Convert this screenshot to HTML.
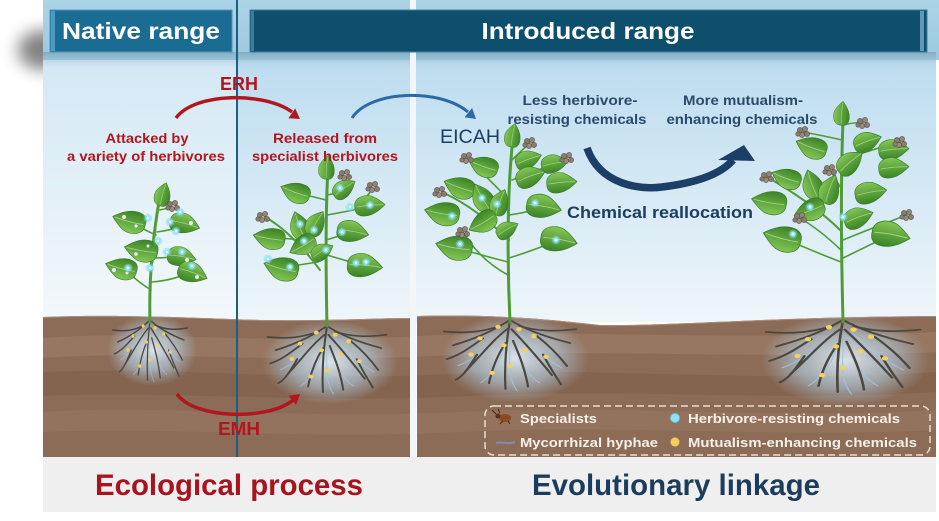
<!DOCTYPE html>
<html><head><meta charset="utf-8"><style>
html,body{margin:0;padding:0;background:#fff;}
svg{display:block;font-family:"Liberation Sans",Arial,sans-serif;}
</style></head><body>
<svg width="939" height="521" viewBox="0 0 939 521" xmlns="http://www.w3.org/2000/svg">
<defs>
<linearGradient id="skyL" x1="0" y1="0" x2="0" y2="1"><stop offset="0" stop-color="#d3e8f4"/><stop offset="1" stop-color="#f3f8fb"/></linearGradient>
<linearGradient id="skyR" x1="0" y1="0" x2="0" y2="1"><stop offset="0" stop-color="#bcdcef"/><stop offset="1" stop-color="#eff6fa"/></linearGradient>
<linearGradient id="hdr" x1="0" y1="0" x2="0" y2="1"><stop offset="0" stop-color="#acd4e7"/><stop offset="1" stop-color="#9cc8de"/></linearGradient>
<linearGradient id="hsh" x1="0" y1="0" x2="0" y2="1"><stop offset="0" stop-color="#6f98b0" stop-opacity="0.6"/><stop offset="1" stop-color="#bcdcef" stop-opacity="0"/></linearGradient>
<linearGradient id="leafg" x1="0" y1="0" x2="0" y2="1"><stop offset="0" stop-color="#84c656"/><stop offset="1" stop-color="#3b8326"/></linearGradient>
<radialGradient id="glow"><stop offset="0" stop-color="#e4f1fa" stop-opacity="0.9"/><stop offset="0.6" stop-color="#b3d5ec" stop-opacity="0.55"/><stop offset="1" stop-color="#a9cde6" stop-opacity="0"/></radialGradient>
<filter id="blur8" x="-1" y="-1" width="3" height="3"><feGaussianBlur stdDeviation="8"/></filter>
<g id="lf"><path d="M-15,0 C-16,-10 -4,-13 4,-10 C10,-7 14,-3 17,0 C12,4 6,9 -2,10 C-10,11 -16,8 -15,0 Z" fill="url(#leafg)" stroke="#357a22" stroke-width="0.6"/><path d="M-13,0 C-4,-1 6,-1 15,0" stroke="#a5d683" stroke-width="0.8" fill="none"/></g>
<g id="dot"><circle r="4.4" fill="#7fdcef" opacity="0.45"/><circle r="2.8" fill="#8ee8f6"/><circle r="1.2" fill="#fff"/></g>
<g id="fl"><circle cx="-3" cy="-2" r="2.6" fill="#8b7c71" stroke="#5b4e46" stroke-width="0.6"/><circle cx="2" cy="-3" r="2.6" fill="#948579" stroke="#5b4e46" stroke-width="0.6"/><circle cx="4" cy="2" r="2.6" fill="#8b7c71" stroke="#5b4e46" stroke-width="0.6"/><circle cx="-1" cy="3" r="2.6" fill="#9a8b7f" stroke="#5b4e46" stroke-width="0.6"/><circle cx="-5" cy="2" r="2.2" fill="#8b7c71" stroke="#5b4e46" stroke-width="0.6"/></g>
<g id="roots" fill="none">
<g stroke="#9fc6e2" stroke-width="0.7" opacity="0.9">
<path d="M-5,10 C-15,25 -25,35 -35,40"/><path d="M5,10 C15,25 25,35 35,42"/><path d="M-2,15 C-5,30 -8,45 -20,55"/><path d="M2,15 C5,30 8,45 20,55"/><path d="M0,20 C0,35 -2,50 5,62"/></g>
<g stroke="#4b4741" stroke-width="1.5" stroke-linecap="round">
<path d="M0,0 C-2,15 -4,35 -3,60"/><path d="M0,0 C-10,8 -20,15 -38,22"/><path d="M0,0 C10,8 22,14 40,20"/><path d="M-2,8 C-12,18 -20,32 -30,45"/><path d="M1,8 C10,20 18,32 28,48"/><path d="M-3,20 C-8,30 -12,42 -14,55"/><path d="M2,18 C6,30 10,42 12,58"/><path d="M-18,16 C-25,22 -32,30 -42,34"/><path d="M18,14 C26,22 32,30 38,40"/><path d="M-6,5 C-18,10 -28,12 -44,10"/><path d="M6,5 C18,10 30,10 44,8"/><path d="M-22,30 C-26,38 -30,48 -36,52"/><path d="M22,30 C26,40 30,48 34,56"/></g>
<g fill="#f3d15c"><circle cx="-8" cy="6" r="1.8"/><circle cx="6" cy="8" r="1.8"/><circle cx="-20" cy="16" r="1.8"/><circle cx="16" cy="14" r="1.8"/><circle cx="-4" cy="22" r="1.8"/><circle cx="10" cy="26" r="1.8"/><circle cx="-26" cy="30" r="1.8"/><circle cx="24" cy="32" r="1.8"/><circle cx="0" cy="40" r="1.8"/><circle cx="-12" cy="46" r="1.8"/></g>
</g>
<clipPath id="soilclip"><path d="M43,317 C120,314 200,318 260,320 C320,321 380,318 410,318 L410,457 L43,457 Z"/><path d="M417,316 C480,314 540,318 600,325 C680,326 760,317 936,316 L936,457 L417,457 Z"/></clipPath>
</defs>

<rect width="939" height="521" fill="#fff"/>
<ellipse cx="44" cy="50" rx="26" ry="20" fill="#6d6d6d" filter="url(#blur8)" opacity="0.85"/>

<rect x="43" y="60" width="195" height="260" fill="url(#skyL)"/>
<rect x="237" y="60" width="699" height="262" fill="url(#skyR)"/>
<rect x="43" y="0" width="896" height="60" fill="url(#hdr)"/>
<rect x="43" y="52" width="893" height="18" fill="url(#hsh)"/>

<g clip-path="url(#soilclip)">
<rect x="43" y="310" width="895" height="150" fill="#8d6c57"/>
<path d="M43,338 C150,330 260,345 420,336 C560,328 700,342 936,332 L936,352 C760,360 600,348 430,356 C280,364 150,350 43,358 Z" fill="#9a7a64" opacity="0.8"/>
<path d="M43,372 C170,366 300,382 450,374 C600,366 760,384 936,372 L936,392 C780,402 620,388 470,396 C300,404 160,390 43,396 Z" fill="#82614c" opacity="0.7"/>
<path d="M43,412 C160,404 300,420 460,412 C620,404 780,420 936,410 L936,430 C780,438 620,424 460,432 C300,440 160,426 43,432 Z" fill="#977661" opacity="0.7"/>
<path d="M43,317 C120,314 200,318 260,320 C320,321 380,318 410,318 M417,316 C480,314 540,318 600,325 C680,326 760,317 936,316" stroke="#a88c78" stroke-width="2" fill="none"/>
</g>

<rect x="43" y="457" width="893" height="55" fill="#efefef"/>

<rect x="236" y="0" width="2" height="457" fill="#1d5e85"/>
<rect x="410" y="0" width="6" height="457" fill="#f2f6f8"/>

<rect x="50" y="10" width="182" height="42" fill="#1b6c93" stroke="#4d97bd" stroke-width="1"/>
<rect x="51" y="11" width="4" height="40" fill="#4a9ac2"/>
<text x="141" y="39" font-size="23" font-weight="bold" fill="#fff" text-anchor="middle" textLength="158" lengthAdjust="spacingAndGlyphs">Native range</text>
<rect x="250" y="10" width="677" height="42" fill="#0f4f6e" stroke="#3f7f9e" stroke-width="1"/>
<rect x="251" y="11" width="3" height="40" fill="#3d7d9c"/>
<rect x="920" y="11" width="4" height="40" fill="#5e9ab8"/>
<text x="588" y="39" font-size="23" font-weight="bold" fill="#fff" text-anchor="middle" textLength="213" lengthAdjust="spacingAndGlyphs">Introduced range</text>

<ellipse cx="152" cy="350" rx="45" ry="36" fill="url(#glow)"/>
<ellipse cx="330" cy="362" rx="68" ry="42" fill="url(#glow)"/>
<ellipse cx="515" cy="358" rx="74" ry="44" fill="url(#glow)"/>
<ellipse cx="845" cy="360" rx="84" ry="46" fill="url(#glow)"/>
<use href="#roots" transform="translate(150,320) scale(0.85,1)"/>
<use href="#roots" transform="translate(327,326) scale(1.35,1.1)"/>
<use href="#roots" transform="translate(510,320) scale(1.5,1.15)"/>
<use href="#roots" transform="translate(843,320) scale(1.75,1.2)"/>

<!-- Plant 1 -->
<g fill="none" stroke="#4e9b38" stroke-linecap="round">
<path d="M150,322 C149,285 152,240 160,196" stroke-width="3"/>
<g stroke-width="1.6"><path d="M151,290 Q135,280 124,268"/><path d="M152,282 Q175,280 190,272"/><path d="M153,262 Q145,255 143,250"/><path d="M154,258 Q170,258 180,255"/><path d="M156,235 Q140,228 132,222"/><path d="M157,232 Q172,230 182,226"/><path d="M160,210 Q168,208 173,207"/></g>
</g>
<use href="#lf" transform="translate(163,195) rotate(-75) scale(0.75)"/>
<use href="#lf" transform="translate(130,221) rotate(195) scale(1.05)"/>
<use href="#lf" transform="translate(184,224) rotate(15) scale(0.95)"/>
<use href="#lf" transform="translate(142,250) rotate(190) scale(1.05)"/>
<use href="#lf" transform="translate(181,257) rotate(10) scale(0.9)"/>
<use href="#lf" transform="translate(122,268) rotate(195) scale(1.0)"/>
<use href="#lf" transform="translate(192,273) rotate(20) scale(0.95)"/>
<g fill="#e6f1f7"><circle cx="124" cy="217" r="2"/><circle cx="136" cy="226" r="1.6"/><circle cx="191" cy="223" r="2"/><circle cx="136" cy="254" r="1.8"/><circle cx="148" cy="246" r="1.5"/><circle cx="187" cy="260" r="2"/><circle cx="114" cy="270" r="2"/><circle cx="197" cy="277" r="2"/><circle cx="127" cy="273" r="1.5"/></g>
<use href="#fl" transform="translate(173,206)"/>
<use href="#dot" transform="translate(148,218)"/><use href="#dot" transform="translate(170,222)"/><use href="#dot" transform="translate(180,212)"/><use href="#dot" transform="translate(176,231)"/><use href="#dot" transform="translate(158,241)"/><use href="#dot" transform="translate(167,252)"/><use href="#dot" transform="translate(182,252)"/><use href="#dot" transform="translate(150,268)"/><use href="#dot" transform="translate(128,268)"/><use href="#dot" transform="translate(192,266)"/>

<!-- Plant 2 -->
<g fill="none" stroke="#4e9b38" stroke-linecap="round">
<path d="M327,326 C326,280 325,220 328,168" stroke-width="3"/>
<path d="M320,270 C305,250 285,228 265,217" stroke-width="2"/>
<g stroke-width="1.6"><path d="M326,200 Q310,196 297,193"/><path d="M327,195 Q338,193 343,192"/><path d="M327,215 Q355,210 367,207"/><path d="M318,262 Q300,265 283,267"/><path d="M327,255 Q350,262 363,265"/><path d="M325,245 Q310,246 303,245"/><path d="M326,240 Q340,236 350,232"/><path d="M300,240 Q285,238 270,238"/><path d="M345,190 Q348,182 345,176"/><path d="M360,206 Q368,195 373,188"/></g>
</g>
<use href="#lf" transform="translate(327,168) rotate(-85) scale(0.75)"/>
<use href="#lf" transform="translate(296,192) rotate(200) scale(0.95)"/>
<use href="#lf" transform="translate(344,189) rotate(-35) scale(0.8)"/>
<use href="#lf" transform="translate(369,206) rotate(-5) scale(0.95)"/>
<use href="#lf" transform="translate(300,226) rotate(-110) scale(0.9)"/>
<use href="#lf" transform="translate(316,224) rotate(-60) scale(0.85)"/>
<use href="#lf" transform="translate(270,238) rotate(190) scale(1.0)"/>
<use href="#lf" transform="translate(303,245) rotate(150) scale(0.9)"/>
<use href="#lf" transform="translate(352,232) rotate(10) scale(1.0)"/>
<use href="#lf" transform="translate(282,268) rotate(195) scale(1.1)"/>
<use href="#lf" transform="translate(322,252) rotate(-30) scale(0.75)"/>
<use href="#lf" transform="translate(364,266) rotate(5) scale(1.1)"/>
<use href="#fl" transform="translate(345,175)"/><use href="#fl" transform="translate(373,187)"/><use href="#fl" transform="translate(263,217)"/>
<use href="#dot" transform="translate(340,188)"/><use href="#dot" transform="translate(350,207)"/><use href="#dot" transform="translate(370,205)"/><use href="#dot" transform="translate(300,224)"/><use href="#dot" transform="translate(314,230)"/><use href="#dot" transform="translate(304,241)"/><use href="#dot" transform="translate(342,232)"/><use href="#dot" transform="translate(268,259)"/><use href="#dot" transform="translate(290,267)"/><use href="#dot" transform="translate(326,250)"/><use href="#dot" transform="translate(356,263)"/><use href="#dot" transform="translate(366,262)"/>

<!-- Plant 3 -->
<g fill="none" stroke="#4e9b38" stroke-linecap="round">
<path d="M510,322 C508,280 506,200 513,138" stroke-width="3"/>
<path d="M509,240 C490,222 470,205 442,192" stroke-width="2"/>
<g stroke-width="1.6"><path d="M508,275 Q480,260 463,232"/><path d="M512,180 Q540,170 567,158"/><path d="M512,160 Q522,150 530,143"/><path d="M509,200 Q485,175 467,158"/><path d="M508,262 Q480,255 455,247"/><path d="M509,258 Q535,250 558,240"/><path d="M509,215 Q530,212 543,207"/></g>
</g>
<use href="#lf" transform="translate(513,136) rotate(-80) scale(0.75)"/>
<use href="#lf" transform="translate(484,166) rotate(200) scale(0.95)"/>
<use href="#lf" transform="translate(528,160) rotate(-20) scale(0.85)"/>
<use href="#lf" transform="translate(554,164) rotate(-10) scale(0.85)"/>
<use href="#lf" transform="translate(460,187) rotate(200) scale(1.0)"/>
<use href="#lf" transform="translate(483,198) rotate(-120) scale(0.95)"/>
<use href="#lf" transform="translate(500,203) rotate(-70) scale(0.85)"/>
<use href="#lf" transform="translate(530,177) rotate(-20) scale(0.95)"/>
<use href="#lf" transform="translate(561,183) rotate(-5) scale(0.95)"/>
<use href="#lf" transform="translate(443,213) rotate(190) scale(1.1)"/>
<use href="#lf" transform="translate(483,222) rotate(150) scale(0.95)"/>
<use href="#lf" transform="translate(543,207) rotate(10) scale(1.1)"/>
<use href="#lf" transform="translate(507,230) rotate(-30) scale(0.75)"/>
<use href="#lf" transform="translate(455,247) rotate(190) scale(1.15)"/>
<use href="#lf" transform="translate(558,240) rotate(10) scale(1.15)"/>
<use href="#fl" transform="translate(530,143)"/><use href="#fl" transform="translate(467,158)"/><use href="#fl" transform="translate(567,158)"/><use href="#fl" transform="translate(440,192)"/><use href="#fl" transform="translate(463,232)"/>
<use href="#dot" transform="translate(482,198)"/><use href="#dot" transform="translate(497,204)"/><use href="#dot" transform="translate(452,216)"/><use href="#dot" transform="translate(535,203)"/><use href="#dot" transform="translate(460,244)"/><use href="#dot" transform="translate(556,240)"/>

<!-- Plant 4 -->
<g fill="none" stroke="#4e9b38" stroke-linecap="round">
<path d="M843,322 C842,280 840,200 843,120" stroke-width="3"/>
<path d="M840,230 C820,210 790,190 767,177" stroke-width="2"/>
<g stroke-width="1.6"><path d="M842,160 Q870,150 900,142"/><path d="M842,140 Q820,135 803,132"/><path d="M843,125 Q855,122 863,123"/><path d="M842,190 Q835,178 830,170"/><path d="M841,250 Q820,230 800,218"/><path d="M843,240 Q880,225 907,215"/><path d="M841,262 Q810,250 783,238"/><path d="M843,258 Q870,245 890,235"/></g>
</g>
<use href="#lf" transform="translate(842,114) rotate(-85) scale(0.75)"/>
<use href="#lf" transform="translate(812,147) rotate(200) scale(1.0)"/>
<use href="#lf" transform="translate(867,142) rotate(-20) scale(0.9)"/>
<use href="#lf" transform="translate(893,150) rotate(-5) scale(0.95)"/>
<use href="#lf" transform="translate(850,163) rotate(-40) scale(0.95)"/>
<use href="#lf" transform="translate(893,168) rotate(-5) scale(0.95)"/>
<use href="#lf" transform="translate(787,178) rotate(200) scale(0.95)"/>
<use href="#lf" transform="translate(813,185) rotate(-110) scale(0.95)"/>
<use href="#lf" transform="translate(830,190) rotate(-70) scale(0.95)"/>
<use href="#lf" transform="translate(870,193) rotate(-10) scale(1.0)"/>
<use href="#lf" transform="translate(770,202) rotate(190) scale(1.1)"/>
<use href="#lf" transform="translate(810,210) rotate(160) scale(1.0)"/>
<use href="#lf" transform="translate(858,218) rotate(-20) scale(0.95)"/>
<use href="#lf" transform="translate(783,238) rotate(195) scale(1.2)"/>
<use href="#lf" transform="translate(890,235) rotate(10) scale(1.2)"/>
<use href="#fl" transform="translate(863,123)"/><use href="#fl" transform="translate(803,132)"/><use href="#fl" transform="translate(900,142)"/><use href="#fl" transform="translate(830,170)"/><use href="#fl" transform="translate(767,177)"/><use href="#fl" transform="translate(800,218)"/><use href="#fl" transform="translate(907,215)"/>
<use href="#dot" transform="translate(810,207)"/><use href="#dot" transform="translate(843,217)"/><use href="#dot" transform="translate(793,234)"/>

<path d="M176,118 C195,92 265,92 292,112" fill="none" stroke="#b01820" stroke-width="3.5"/>
<polygon points="300,119 288.4,118.2 295.2,108.4" fill="#b01820"/>
<text x="239" y="90" font-size="18" font-weight="bold" fill="#b3151f" text-anchor="middle" textLength="38" lengthAdjust="spacingAndGlyphs">ERH</text>
<path d="M352,118 C370,90 440,88 468,112" fill="none" stroke="#2b6aa3" stroke-width="3"/>
<polygon points="476,119 464.5,117.2 472.1,108" fill="#2b6aa3"/>
<text x="440" y="143" font-size="19" fill="#1c3e62" textLength="60" lengthAdjust="spacingAndGlyphs">EICAH</text>
<path d="M177,394 C195,420 270,420 293,400" fill="none" stroke="#b01820" stroke-width="3.5"/>
<polygon points="300,394 296.1,405 288.5,395.8" fill="#b01820"/>
<text x="239" y="435" font-size="18" font-weight="bold" fill="#b3151f" text-anchor="middle" textLength="42" lengthAdjust="spacingAndGlyphs">EMH</text>

<g font-size="13.5" font-weight="bold" fill="#b3151f" text-anchor="middle">
<text x="147" y="143" textLength="83" lengthAdjust="spacingAndGlyphs">Attacked by</text>
<text x="146" y="161" textLength="158" lengthAdjust="spacingAndGlyphs">a variety of herbivores</text>
<text x="325" y="143" textLength="104" lengthAdjust="spacingAndGlyphs">Released from</text>
<text x="325" y="161" textLength="146" lengthAdjust="spacingAndGlyphs">specialist herbivores</text>
</g>
<g font-size="13.5" font-weight="bold" fill="#2a4a6a" text-anchor="middle">
<text x="580" y="105" textLength="115" lengthAdjust="spacingAndGlyphs">Less herbivore-</text>
<text x="577" y="124" textLength="139" lengthAdjust="spacingAndGlyphs">resisting chemicals</text>
<text x="743" y="105" textLength="120" lengthAdjust="spacingAndGlyphs">More mutualism-</text>
<text x="742" y="124" textLength="151" lengthAdjust="spacingAndGlyphs">enhancing chemicals</text>
</g>
<path d="M587,148 C600,185 640,190 662,187 C695,183 720,175 733,160" fill="none" stroke="#1b3f66" stroke-width="7.5"/>
<polygon points="718,160 744,145 755,161" fill="#1b3f66"/>
<text x="567" y="218" font-size="17" font-weight="bold" fill="#1c3e62" textLength="186" lengthAdjust="spacingAndGlyphs">Chemical reallocation</text>

<rect x="485" y="406" width="445" height="49" rx="9" fill="none" stroke="#e8ded4" stroke-width="1.5" stroke-dasharray="7 4"/>
<g>
<ellipse cx="505" cy="418" rx="6" ry="4" fill="#8a4a22"/><circle cx="498" cy="416" r="2.5" fill="#5a3218"/>
<path d="M496,414 L492,410 M500,413 L498,409 M503,421 L500,424 M508,421 L510,424" stroke="#4a2a14" stroke-width="1"/>
<path d="M496,443 C502,441 508,445 515,442" stroke="#7d8fb0" stroke-width="2" fill="none"/>
<circle cx="675" cy="418" r="4.5" fill="#8fe3f2" stroke="#5fc6dc" stroke-width="1"/>
<circle cx="675" cy="442" r="4.5" fill="#f3cf5a"/>
</g>
<g font-size="13" font-weight="bold" fill="#f5f0ea">
<text x="520" y="423" textLength="77" lengthAdjust="spacingAndGlyphs">Specialists</text>
<text x="688" y="423" textLength="212" lengthAdjust="spacingAndGlyphs">Herbivore-resisting chemicals</text>
<text x="520" y="447" textLength="138" lengthAdjust="spacingAndGlyphs">Mycorrhizal hyphae</text>
<text x="688" y="447" textLength="229" lengthAdjust="spacingAndGlyphs">Mutualism-enhancing chemicals</text>
</g>

<text x="229" y="495" font-size="30" font-weight="bold" fill="#a8141e" text-anchor="middle" textLength="268" lengthAdjust="spacingAndGlyphs">Ecological process</text>
<text x="676" y="495" font-size="30" font-weight="bold" fill="#1c3c5e" text-anchor="middle" textLength="288" lengthAdjust="spacingAndGlyphs">Evolutionary linkage</text>
</svg>
</body></html>
